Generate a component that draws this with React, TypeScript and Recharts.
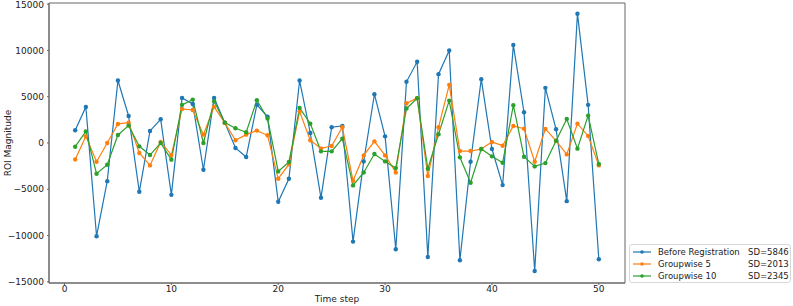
import React from "react";
import {
  LineChart,
  Line,
  XAxis,
  YAxis,
  ReferenceArea,
} from "recharts";

const steps = [
  1, 2, 3, 4, 5, 6, 7, 8, 9, 10, 11, 12, 13, 14, 15, 16, 17, 18, 19, 20, 21, 22, 23, 24, 25,
  26, 27, 28, 29, 30, 31, 32, 33, 34, 35, 36, 37, 38, 39, 40, 41, 42, 43, 44, 45, 46, 47, 48, 49, 50,
];

const beforeReg = [
  1370, 3900, -10070, -4120, 6750, 2920, -5270, 1300, 2560, -5600,
  4870, 4220, -2890, 4870, 2200, -540, -1520, 4120, 2850, -6350,
  -3860, 6750, 1080, -5920, 1700, 1840, -10650, -1990, 5270, 720,
  -11480, 6610, 8770, -12310, 7440, 10000, -12670, -2020, 6900, -650,
  -4550, 10580, 3320, -13830, 5960, 1480, -6280, 13970, 4120, -12560,
];

const groupwise5 = [
  -1770, 720, -2020, 0, 2060, 2200, -1080, -2420, 110, -1300,
  3680, 3570, 900, 3900, 2170, 290, 900, 1340, 830, -3860,
  -2310, 3390, 290, -580, -320, 1700, -4080, -1340, 180, -1340,
  -3180, 4300, 4840, -3570, 1700, 6280, -870, -870, -650, 110,
  -290, 1840, 1550, -2020, 1520, 220, -1230, 2090, 760, -2420,
];

const groupwise10 = [
  -400, 1260, -3320, -2350, 870, 1880, -360, -1300, 0, -1800,
  4120, 4690, 0, 4510, 2200, 1590, 1160, 4620, 2640, -3070,
  -2060, 3790, 2090, -900, -900, 470, -4580, -3180, -1190, -1990,
  -2710, 3720, 4840, -2780, 940, 4580, -1550, -4300, -650, -1440,
  -2130, 4080, -1480, -2530, -2170, 250, 2600, -610, 2960, -2270,
];

const seriesNames = ["Before Registration", "Groupwise 5", "Groupwise 10"];
const seriesKeys = ["before", "gw5", "gw10"];
const seriesColors = ["#1f77b4", "#ff7f0e", "#2ca02c"];
const seriesSD = ["SD=5846", "SD=2013", "SD=2345"];

const xTicks = [0, 10, 20, 30, 40, 50];
const yTicks = [-15000, -10000, -5000, 0, 5000, 10000, 15000];
const xDomain = [-1.45, 52.45];
const yDomain = [-15125, 15125];

const data = steps.map((s, i) => ({
  step: s,
  before: beforeReg[i],
  gw5: groupwise5[i],
  gw10: groupwise10[i],
}));

const FONT = "'DejaVu Sans', sans-serif";
const tickStyle = { fill: "#222", fontSize: 9, fontFamily: FONT };
const spine = { stroke: "#666", strokeWidth: 1 };
// matplotlib draws negatives with a real minus sign
const fmtTick = (v: number) => String(v).replace("-", "\u2212");

const LegendBox = () => (
  <div
    style={{
      position: "absolute",
      left: 629,
      top: 244,
      width: 162,
      height: 39,
      boxSizing: "border-box",
      border: "1px solid #d8d8d8",
      borderRadius: 3,
      background: "#fff",
      padding: "1px 0 0 2px",
      fontFamily: FONT,
      fontSize: 8.5,
      color: "#222",
    }}
  >
    {seriesNames.map((name, i) => (
      <div key={name} style={{ display: "flex", alignItems: "center", height: 12, whiteSpace: "nowrap" }}>
        <svg width={20} height={8} style={{ marginRight: 6, flexShrink: 0 }}>
          <line x1={1} y1={4} x2={19} y2={4} stroke={seriesColors[i]} strokeWidth={1.2} />
          <circle cx={10} cy={4} r={1.8} fill={seriesColors[i]} />
        </svg>
        <span style={{ width: 90, flexShrink: 0 }}>{name}</span>
        <span style={{ flexShrink: 0 }}>{seriesSD[i]}</span>
      </div>
    ))}
  </div>
);

export default function App() {
  return (
    <div style={{ position: "absolute", left: 0, top: 0, width: 793, height: 306, background: "#fff" }}>
      <LineChart
        width={793}
        height={306}
        data={data}
        margin={{ top: 3, right: 168, bottom: 0, left: 0 }}
      >
        <XAxis
          dataKey="step"
          type="number"
          domain={xDomain}
          ticks={xTicks}
          tick={tickStyle}
          tickSize={2}
          tickMargin={1}
          tickLine={spine}
          axisLine={spine}
          height={23}
          label={{ value: "Time step", position: "insideBottom", offset: 4, fill: "#222", fontSize: 9, fontFamily: FONT }}
        />
        <YAxis
          type="number"
          domain={yDomain}
          ticks={yTicks}
          tickFormatter={fmtTick}
          tick={tickStyle}
          tickSize={2}
          tickMargin={3}
          tickLine={spine}
          axisLine={spine}
          width={49}
          label={{ value: "ROI Magnitude", angle: -90, position: "insideLeft", offset: 8, fill: "#222", fontSize: 9, fontFamily: FONT, style: { textAnchor: "middle" } }}
        />
        <ReferenceArea
          x1={xDomain[0]}
          x2={xDomain[1]}
          y1={yDomain[0]}
          y2={yDomain[1]}
          fill="none"
          stroke="#666"
          strokeWidth={1}
          ifOverflow="visible"
        />
        {seriesKeys.map((k, i) => (
          <Line
            key={k}
            type="linear"
            dataKey={k}
            name={seriesNames[i]}
            stroke={seriesColors[i]}
            strokeWidth={1.2}
            dot={{ r: 2.2, fill: seriesColors[i], stroke: "none" }}
            activeDot={false}
            isAnimationActive={false}
          />
        ))}
      </LineChart>
      <LegendBox />
    </div>
  );
}
